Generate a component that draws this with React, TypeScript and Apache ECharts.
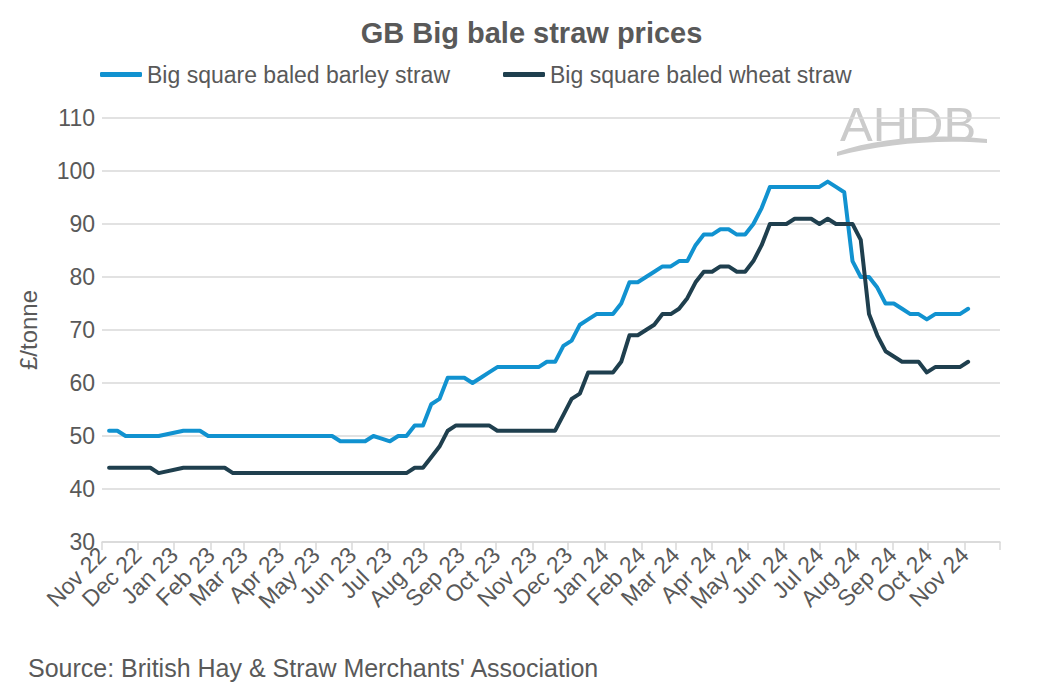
import React, { useEffect, useRef } from "react";
import * as echarts from "echarts";

// Month tick labels (first of each month, Nov 2022 – Nov 2024)
const monthLabels = [
  "Nov 22", "Dec 22", "Jan 23", "Feb 23", "Mar 23", "Apr 23", "May 23", "Jun 23",
  "Jul 23", "Aug 23", "Sep 23", "Oct 23", "Nov 23", "Dec 23", "Jan 24", "Feb 24",
  "Mar 24", "Apr 24", "May 24", "Jun 24", "Jul 24", "Aug 24", "Sep 24", "Oct 24", "Nov 24",
];

// Weekly price observations (£/tonne), starting Monday 7 Nov 2022; null = no quote
const firstWeek = { year: 2022, month: 10, day: 7 };

const barley: (number | null)[] = [
  51, 51, 50, 50, 50, 50, 50, null, null, 51,
  51, 51, 50, 50, 50, 50, 50, 50, 50, 50,
  50, 50, 50, 50, 50, 50, 50, 50, 49, 49,
  49, 49, 50, 49.5, 49, 50, 50, 52, 52, 56,
  57, 61, 61, 61, 60, 61, 62, 63, 63, 63,
  63, 63, 63, 64, 64, 67, 68, 71, 72, 73,
  73, 73, 75, 79, 79, 80, 81, 82, 82, 83,
  83, 86, 88, 88, 89, 89, 88, 88, 90, 93,
  97, 97, 97, 97, 97, 97, 97, 98, 97, 96,
  83, 80, 80, 78, 75, 75, 74, 73, 73, 72,
  73, 73, 73, 73, 74,
];

const wheat: (number | null)[] = [
  44, 44, 44, 44, 44, 44, 43, null, null, 44,
  44, 44, 44, 44, 44, 43, 43, 43, 43, 43,
  43, 43, 43, 43, 43, 43, 43, 43, 43, 43,
  43, 43, 43, 43, 43, 43, 43, 44, 44, 46,
  48, 51, 52, 52, 52, 52, 52, 51, 51, 51,
  51, 51, 51, 51, 51, 54, 57, 58, 62, 62,
  62, 62, 64, 69, 69, 70, 71, 73, 73, 74,
  76, 79, 81, 81, 82, 82, 81, 81, 83, 86,
  90, 90, 90, 91, 91, 91, 90, 91, 90, 90,
  90, 87, 73, 69, 66, 65, 64, 64, 64, 62,
  63, 63, 63, 63, 64,
];

const seriesNames = ["Big square baled barley straw", "Big square baled wheat straw"];
const yMin = 30;
const yMax = 110;
const yStep = 10;

const BLUE = "#1192D0";
const DARK = "#1F3F4E";
const GREY_TEXT = "#595959";
const GRID = "#D9D9D9";
const FONT = "Liberation Sans, Arial, sans-serif";

const weekDates = barley.map((_, i) =>
  new Date(firstWeek.year, firstWeek.month, firstWeek.day + 7 * i).getTime()
);
// month starts: Nov 2022 .. Dec 2024 (ticks), labels only for named months
const monthStarts = Array.from({ length: monthLabels.length + 1 }, (_, k) =>
  new Date(2022, 10 + k, 1).getTime()
);
const labelValues = monthStarts.slice(0, monthLabels.length);

export default function App() {
  const ref = useRef<HTMLDivElement>(null);

  useEffect(() => {
    if (!ref.current) return;
    echarts.graphic.registerShape(
      "ahdbSwoosh",
      echarts.graphic.extendPath(
        "M0,16 C40,2 100,-3 150,3 L150,7 C100,3 45,8 0,20 Z",
        {}
      ) as any
    );
    const chart = echarts.init(ref.current, null, { renderer: "svg" });
    const monthName = (v: number) => {
      let best = 0;
      let bestD = Infinity;
      labelValues.forEach((lv, k) => {
        const d = Math.abs(lv - v);
        if (d < bestD) {
          bestD = d;
          best = k;
        }
      });
      return bestD < 86400000 ? monthLabels[best] : "";
    };
    chart.setOption({
      animation: false,
      backgroundColor: "#ffffff",
      title: {
        text: "GB Big bale straw prices",
        left: "center",
        top: 18,
        padding: 0,
        textStyle: { fontFamily: FONT, fontSize: 29, fontWeight: "bold", color: GREY_TEXT },
      },
      legend: {
        left: 100,
        top: 63,
        padding: 0,
        itemGap: 53,
        itemWidth: 42,
        itemHeight: 5,
        icon: "roundRect",
        data: seriesNames,
        textStyle: { fontFamily: FONT, fontSize: 23, color: GREY_TEXT },
      },
      grid: { left: 102, top: 118, right: 63, bottom: 144, containLabel: false },
      xAxis: {
        type: "value",
        min: monthStarts[0],
        max: monthStarts[monthStarts.length - 1],
        axisLine: { show: true, lineStyle: { color: GRID, width: 1.5 } },
        axisTick: {
          show: true,
          length: 8,
          lineStyle: { color: GRID, width: 1.5 },
          customValues: monthStarts,
        },
        splitLine: { show: false },
        axisLabel: {
          customValues: labelValues,
          rotate: 45,
          margin: 9,
          fontFamily: FONT,
          fontSize: 23,
          color: GREY_TEXT,
          formatter: (v: number) => monthName(v),
        },
      },
      yAxis: {
        type: "value",
        min: yMin,
        max: yMax,
        interval: yStep,
        name: "£/tonne",
        nameLocation: "middle",
        nameGap: 62,
        nameTextStyle: { fontFamily: FONT, fontSize: 24, color: GREY_TEXT },
        axisLine: { show: false },
        axisTick: { show: false },
        axisLabel: { fontFamily: FONT, fontSize: 23, color: GREY_TEXT, margin: 7 },
        splitLine: { lineStyle: { color: GRID, width: 1.5 } },
      },
      series: [
        {
          name: seriesNames[0],
          type: "line",
          symbol: "none",
          connectNulls: true,
          color: BLUE,
          lineStyle: { width: 4, color: BLUE, cap: "round", join: "round" },
          data: weekDates.map((d, i) => [d, barley[i]]),
        },
        {
          name: seriesNames[1],
          type: "line",
          symbol: "none",
          connectNulls: true,
          color: DARK,
          lineStyle: { width: 4, color: DARK, cap: "round", join: "round" },
          data: weekDates.map((d, i) => [d, wheat[i]]),
        },
      ],
      graphic: [
        {
          type: "text",
          left: 28,
          top: 655,
          style: {
            text: "Source: British Hay & Straw Merchants' Association",
            fontFamily: FONT,
            fontSize: 25,
            fill: GREY_TEXT,
          },
        },
        {
          type: "text",
          left: 840,
          top: 99,
          style: {
            text: "AHDB",
            fontFamily: FONT,
            fontSize: 49,
            fill: "#CBCBCB",
          },
        },
        {
          type: "ahdbSwoosh",
          x: 837,
          y: 136,
          style: { fill: "#CBCBCB" },
        },
      ],
    });
    return () => chart.dispose();
  }, []);

  return (
    <div
      ref={ref}
      style={{ position: "fixed", left: 0, top: 0, width: 1063, height: 686, background: "#fff" }}
    />
  );
}
